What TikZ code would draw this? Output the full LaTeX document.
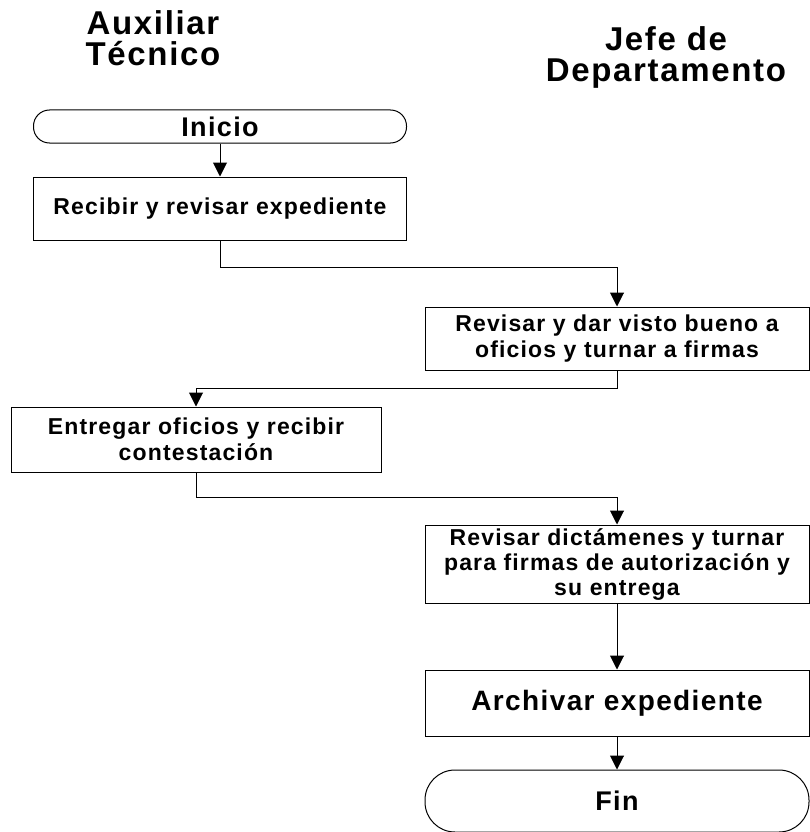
\documentclass[tikz,border=0pt]{standalone}
\usepackage{fontspec}
\setmainfont{Liberation Sans}[LetterSpace=5, BoldFont={Liberation Sans Bold}]
\usepackage{tikz}
\usetikzlibrary{arrows.meta}

\begin{document}
\begin{tikzpicture}[x=1pt, y=1pt,
    paso/.style={draw, line width=1pt, inner sep=0pt, align=center,
      font=\bfseries\fontsize{23}{26.5}\selectfont},
    terminal/.style={draw, line width=1pt, inner sep=0pt,
      font=\bfseries\fontsize{27}{28}\selectfont},
    titulo/.style={align=center, inner sep=0pt, anchor=north,
      font=\bfseries\fontsize{33}{31}\selectfont},
    flujo/.style={line width=1pt, -{Triangle[width=14pt,length=14pt]}}]
    %----------------------------------------
    % page frame 810 x 832
    %----------------------------------------
    \useasboundingbox (0,0) rectangle (810,-832);

    % column headers
    \node[titulo] (aux) at (153,-10) {Auxiliar\\Técnico};
    \node[titulo] (jefe) at (666,-26) {Jefe de\\Departamento};

    %----------------------------------------
    % steps
    %----------------------------------------
    \node[terminal, rounded corners=16pt, minimum width=373pt, minimum height=33pt]
      (inicio) at (220,-126.5) {Inicio};
    \node[paso, minimum width=373pt, minimum height=63pt]
      (recibir) at (220,-208.5) {Recibir y revisar expediente};
    \node[paso, minimum width=384pt, minimum height=63pt]
      (visto) at (617,-338.5) {Revisar y dar visto bueno a\\oficios y turnar a firmas};
    \node[paso, minimum width=370pt, minimum height=65pt]
      (entregar) at (196,-439.5) {Entregar oficios y recibir\\contestación};
    \node[paso, minimum width=384pt, minimum height=78pt, font=\bfseries\fontsize{23}{25}\selectfont]
      (dictamen) at (617,-564) {Revisar dictámenes y turnar\\para firmas de autorización y\\su entrega};
    \node[paso, minimum width=384pt, minimum height=66pt,
      font=\bfseries\fontsize{28}{28}\selectfont]
      (archivar) at (617,-703) {Archivar expediente};
    \node[terminal, rounded corners=30pt, minimum width=384pt, minimum height=62pt]
      (fin) at (617,-801) {Fin};

    %----------------------------------------
    % flow
    %----------------------------------------
    \draw[flujo] (inicio) -- (recibir);
    \draw[flujo] (recibir.south) -- ++(0,-27) -| (visto.north);
    \draw[flujo] (visto.south) -- ++(0,-18) -| (entregar.north);
    \draw[flujo] (entregar.south) -- ++(0,-25) -| (dictamen.north);
    \draw[flujo] (dictamen) -- (archivar);
    \draw[flujo] (archivar) -- (fin);

\end{tikzpicture}
\end{document}
